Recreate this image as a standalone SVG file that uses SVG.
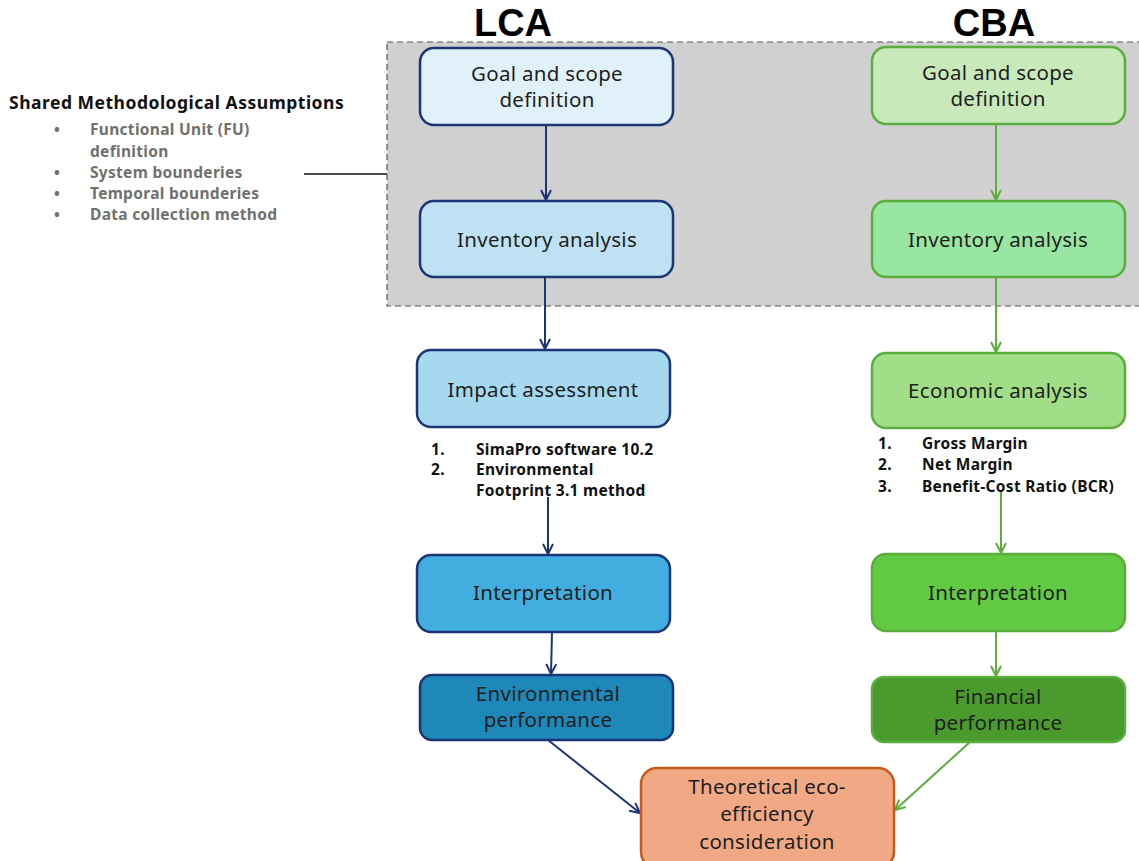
<svg xmlns="http://www.w3.org/2000/svg" width="1139" height="861" viewBox="0 0 1139 861">
  <defs>
    <marker id="arrowBlue" viewBox="0 0 12 12" refX="11" refY="6" markerWidth="12" markerHeight="12" markerUnits="userSpaceOnUse" orient="auto">
      <path d="M1,1 L11,6 L1,11" fill="none" stroke="#1b3575" stroke-width="2"/>
    </marker>
    <marker id="arrowGreen" viewBox="0 0 12 12" refX="11" refY="6" markerWidth="12" markerHeight="12" markerUnits="userSpaceOnUse" orient="auto">
      <path d="M1,1 L11,6 L1,11" fill="none" stroke="#5aae3c" stroke-width="2"/>
    </marker>
    <style>
      .title { font-family: "Liberation Sans Narrow", "Liberation Sans", Arial, sans-serif; font-weight: bold; font-size: 38px; fill: #000; text-anchor: middle; }
      .lbl { font-family: "Noto Sans", "Open Sans", sans-serif; font-size: 20.5px; letter-spacing: 0.3px; fill: #1e1e1e; text-anchor: middle; }
      .lca { stroke: #1b3575; stroke-width: 2.5; }
      .cba { stroke: #5aae3c; stroke-width: 2.5; }
      .eco { stroke: #c55a1b; stroke-width: 2.5; fill: #f1a985; }
      .conB { stroke: #1b3575; stroke-width: 2; fill: none; marker-end: url(#arrowBlue); }
      .conG { stroke: #5aae3c; stroke-width: 2; fill: none; marker-end: url(#arrowGreen); }
      .list { font-family: "Noto Sans", "Open Sans", sans-serif; font-weight: bold; font-size: 15.5px; letter-spacing: 0.3px; fill: #111; }
      .shared { font-family: "Noto Sans", "Open Sans", sans-serif; font-weight: bold; font-size: 15.5px; letter-spacing: 0.3px; fill: #707070; }
    </style>
  </defs>

  <rect width="1139" height="861" fill="#ffffff"/>

  <!-- shared assumptions region -->
  <rect x="387" y="42" width="760" height="264" fill="#d0d0d0" stroke="#555" stroke-width="1.2" stroke-dasharray="6,4"/>

  <!-- column titles -->
  <text class="title" x="513" y="36">LCA</text>
  <text class="title" x="994" y="36">CBA</text>

  <!-- shared assumptions note -->
  <g id="shared-assumptions">
    <text x="9" y="109" font-family="Noto Sans, Open Sans, sans-serif" font-weight="bold" font-size="17.5" letter-spacing="0.5" fill="#111">Shared Methodological Assumptions</text>
    <text class="shared" x="54" y="135">•</text>
    <text class="shared" x="90" y="135">Functional Unit (FU)</text>
    <text class="shared" x="90" y="157">definition</text>
    <text class="shared" x="54" y="178">•</text>
    <text class="shared" x="90" y="178">System bounderies</text>
    <text class="shared" x="54" y="199">•</text>
    <text class="shared" x="90" y="199">Temporal bounderies</text>
    <text class="shared" x="54" y="220">•</text>
    <text class="shared" x="90" y="220">Data collection method</text>
    <line x1="304" y1="174" x2="387" y2="174" stroke="#111" stroke-width="1.3"/>
  </g>

  <!-- connectors -->
  <g id="connectors">
    <line class="conB" x1="546" y1="125" x2="546" y2="200"/>
    <line class="conB" x1="545" y1="277" x2="545" y2="349"/>
    <line class="conB" x1="548" y1="497" x2="548" y2="554"/>
    <line class="conB" x1="552" y1="632" x2="551" y2="674"/>
    <line class="conB" x1="548" y1="740" x2="640" y2="813"/>
    <line class="conG" x1="996" y1="124" x2="996" y2="200"/>
    <line class="conG" x1="996" y1="277" x2="996" y2="352"/>
    <line class="conG" x1="1001" y1="490" x2="1001" y2="553"/>
    <line class="conG" x1="996" y1="631" x2="996" y2="676"/>
    <line class="conG" x1="970" y1="742" x2="895" y2="810"/>
  </g>

  <!-- LCA column -->
  <g id="lca-goal">
    <rect class="lca" x="420" y="48" width="253" height="77" rx="14" fill="#e1f1f9"/>
    <text class="lbl" x="547" y="81">Goal and scope</text>
    <text class="lbl" x="547" y="107">definition</text>
  </g>
  <g id="lca-inventory">
    <rect class="lca" x="420" y="201" width="253" height="76" rx="14" fill="#bee2f3"/>
    <text class="lbl" x="547" y="247">Inventory analysis</text>
  </g>
  <g id="lca-impact">
    <rect class="lca" x="417" y="350" width="253" height="77" rx="14" fill="#a6d9f0"/>
    <text class="lbl" x="543" y="397">Impact assessment</text>
    <text class="list" x="431" y="455">1.</text>
    <text class="list" x="476" y="455">SimaPro software 10.2</text>
    <text class="list" x="431" y="475">2.</text>
    <text class="list" x="476" y="475">Environmental</text>
    <text class="list" x="476" y="496">Footprint 3.1 method</text>
  </g>
  <g id="lca-interpretation">
    <rect class="lca" x="417" y="555" width="253" height="77" rx="14" fill="#42aedf"/>
    <text class="lbl" x="543" y="600">Interpretation</text>
  </g>
  <g id="lca-performance">
    <rect class="lca" x="420" y="675" width="253" height="65" rx="12" fill="#1e88b9"/>
    <text class="lbl" x="548" y="701">Environmental</text>
    <text class="lbl" x="548" y="727">performance</text>
  </g>

  <!-- CBA column -->
  <g id="cba-goal">
    <rect class="cba" x="872" y="47" width="253" height="77" rx="14" fill="#c8eabb"/>
    <text class="lbl" x="998" y="80">Goal and scope</text>
    <text class="lbl" x="998" y="106">definition</text>
  </g>
  <g id="cba-inventory">
    <rect class="cba" x="872" y="201" width="253" height="76" rx="14" fill="#98e6a1"/>
    <text class="lbl" x="998" y="247">Inventory analysis</text>
  </g>
  <g id="cba-economic">
    <rect class="cba" x="872" y="353" width="253" height="75" rx="14" fill="#a1de87"/>
    <text class="lbl" x="998" y="398">Economic analysis</text>
    <text class="list" x="878" y="449">1.</text>
    <text class="list" x="922" y="449">Gross Margin</text>
    <text class="list" x="878" y="470">2.</text>
    <text class="list" x="922" y="470">Net Margin</text>
    <text class="list" x="878" y="492">3.</text>
    <text class="list" x="922" y="492">Benefit-Cost Ratio (BCR)</text>
  </g>
  <g id="cba-interpretation">
    <rect class="cba" x="872" y="554" width="253" height="77" rx="14" fill="#62c942"/>
    <text class="lbl" x="998" y="600">Interpretation</text>
  </g>
  <g id="cba-performance">
    <rect class="cba" x="872" y="677" width="253" height="65" rx="12" fill="#4a9a2e"/>
    <text class="lbl" x="998" y="704">Financial</text>
    <text class="lbl" x="998" y="730">performance</text>
  </g>

  <!-- combined result -->
  <g id="eco-efficiency">
    <rect class="eco" x="641" y="768" width="253" height="100" rx="16"/>
    <text class="lbl" x="767" y="794">Theoretical eco-</text>
    <text class="lbl" x="767" y="821">efficiency</text>
    <text class="lbl" x="767" y="849">consideration</text>
  </g>
</svg>
